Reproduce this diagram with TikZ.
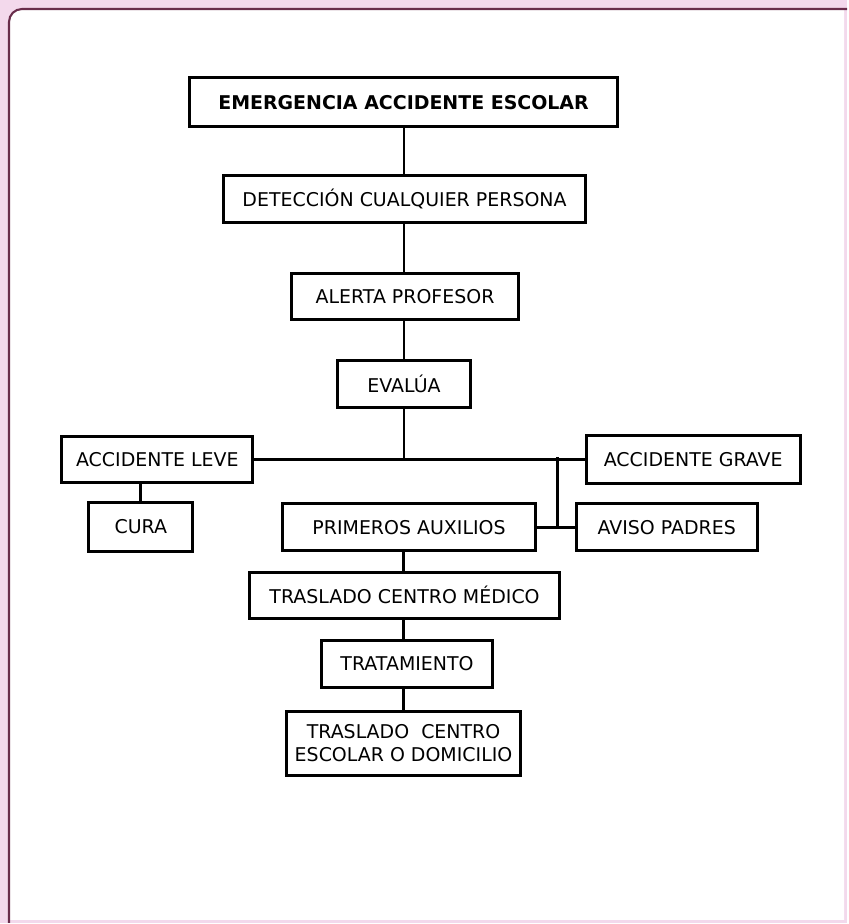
\documentclass[tikz,border=0pt]{standalone}
\usepackage{xcolor}
\usepackage{fontspec}
\setmainfont{DejaVu Sans}
\definecolor{fondo}{RGB}{243,217,236}
\definecolor{borde}{RGB}{105,45,75}
\tikzset{
  caja/.style={draw, line width=1.7pt, inner sep=0pt, align=center,
    font=\fontsize{10.8}{13}\selectfont},
  linea/.style={line width=1.6pt}
}
\begin{document}
\begin{tikzpicture}[x=0.02cm, y=-0.02cm]
            %背景与边框
            \fill[fondo] (0,0) rectangle (848,924);
            \fill[white] (9,921) -- (9,22) arc (180:270:13) -- (845,9) -- (845,921) -- cycle;
            \draw[borde, line width=1.2pt] (9,924) -- (9,22) arc (180:270:13) -- (848,9);
            \useasboundingbox (0,0) rectangle (848,924);
            %主干上的方框
            \node[caja, minimum width=8.56cm, minimum height=0.98cm, font=\fontsize{10.8}{13}\selectfont\bfseries] (emer) at (404,102.5) {EMERGENCIA ACCIDENTE ESCOLAR};
            \node[caja, minimum width=7.24cm, minimum height=0.94cm] (detec) at (405,199.5) {DETECCIÓN CUALQUIER PERSONA};
            \node[caja, minimum width=4.54cm, minimum height=0.92cm] (alerta) at (405.5,297) {ALERTA PROFESOR};
            \node[caja, minimum width=2.66cm, minimum height=0.94cm] (evalua) at (404.5,384.5) {EVALÚA};
            %两种事故
            \node[caja, minimum width=3.82cm, minimum height=0.94cm] (leve) at (157.5,460) {ACCIDENTE LEVE};
            \node[caja, minimum width=4.28cm, minimum height=0.96cm] (grave) at (694,460) {ACCIDENTE GRAVE};
            \node[caja, minimum width=2.08cm, minimum height=0.98cm] (cura) at (141,527.5) {CURA};
            \node[caja, minimum width=5.06cm, minimum height=0.94cm] (prim) at (409.5,528) {PRIMEROS AUXILIOS};
            \node[caja, minimum width=3.62cm, minimum height=0.94cm] (aviso) at (667.5,528) {AVISO PADRES};
            %下面的方框
            \node[caja, minimum width=6.2cm, minimum height=0.92cm] (medico) at (405,596) {TRASLADO CENTRO MÉDICO};
            \node[caja, minimum width=3.42cm, minimum height=0.94cm] (trat) at (407.5,664.5) {TRATAMIENTO};
            \node[caja, minimum width=4.7cm, minimum height=1.28cm] (domic) at (404,744) {TRASLADO\ \ CENTRO\\ESCOLAR O DOMICILIO};
            %连线
            \coordinate (rama) at (558,458);
            \draw[linea] (emer.south -| evalua.south) -- (detec.north -| evalua.south);
            \draw[linea] (detec.south -| evalua.south) -- (alerta.north -| evalua.south);
            \draw[linea] (alerta.south -| evalua.south) -- (evalua.north);
            \draw[linea] (evalua.south) -- (evalua.south |- leve.east);
            \draw[linea] (leve.east) -- (grave.west);
            \draw[linea] (cura.north) -- (cura.north |- leve.south);
            \draw[linea] (rama) -- (rama |- prim.east);
            \draw[linea] (prim.east) -- (aviso.west);
            \draw[linea] (medico.north -| domic.north) -- (prim.south -| domic.north);
            \draw[linea] (medico.south -| domic.north) -- (trat.north -| domic.north);
            \draw[linea] (trat.south -| domic.north) -- (domic.north);
\end{tikzpicture}
\end{document}
